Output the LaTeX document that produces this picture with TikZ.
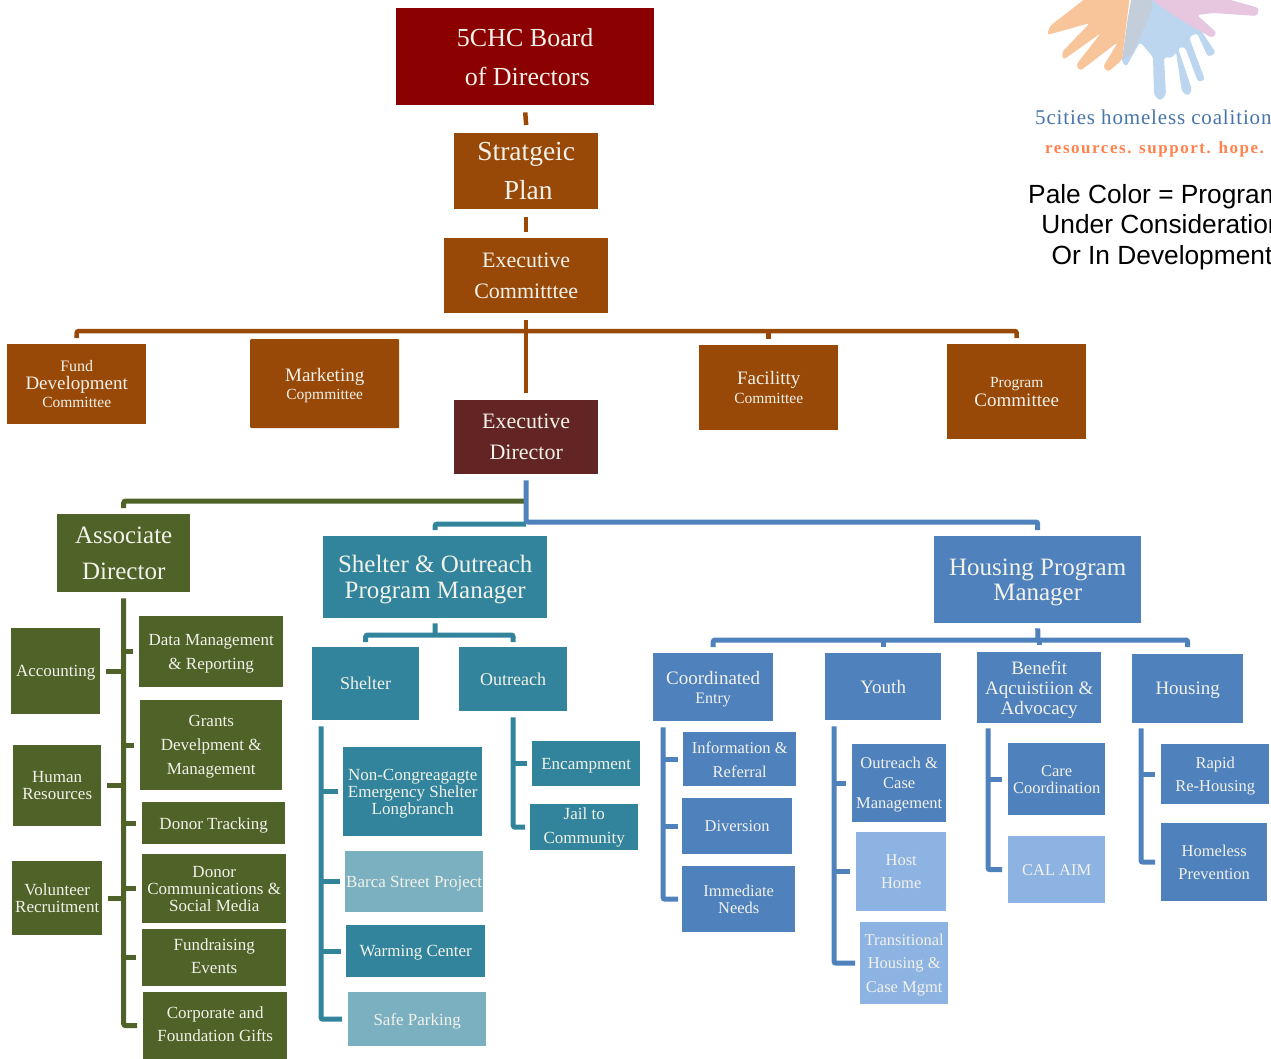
\documentclass[tikz,border=0pt]{standalone}
\usepackage{fontspec}
\setmainfont{Liberation Serif}
\newfontfamily\labelfont{Liberation Sans}
\newfontfamily\namefont[LetterSpace=4]{Liberation Serif}
\newfontfamily\sloganfont[LetterSpace=9]{Liberation Serif}
\newcommand{\fs}[2]{\fontsize{#1}{#2}\selectfont}
\definecolor{boardred}{HTML}{8B0000}
\definecolor{planbrown}{HTML}{984807}
\definecolor{directordark}{HTML}{632523}
\definecolor{staffgreen}{HTML}{4F6228}
\definecolor{shelterteal}{HTML}{31849B}
\definecolor{paleteal}{HTML}{7BB0C1}
\definecolor{housingblue}{HTML}{4F81BD}
\definecolor{paleblue}{HTML}{8DB3E2}
\definecolor{boxtext}{HTML}{F2F2EA}
\definecolor{handorange}{HTML}{F8C499}
\definecolor{handblue}{HTML}{BDD6F0}
\definecolor{handpink}{HTML}{E7C6E0}
\definecolor{handgrey}{HTML}{C3CEDA}
\tikzset{
  box/.style={anchor=north west, inner sep=0pt, align=center, text=boxtext, text depth=0pt},
  red_box/.style={box, fill=boardred},
  brown_box/.style={box, fill=planbrown},
  dark_box/.style={box, fill=directordark},
  green_box/.style={box, fill=staffgreen},
  teal_box/.style={box, fill=shelterteal},
  paleteal_box/.style={box, fill=paleteal},
  blue_box/.style={box, fill=housingblue},
  paleblue_box/.style={box, fill=paleblue},
  brown_line/.style={draw=planbrown, line width=4.5pt, rounded corners=2pt},
  green_line/.style={draw=staffgreen, line width=5pt, rounded corners=2pt},
  teal_line/.style={draw=shelterteal, line width=5pt, rounded corners=2pt},
  blue_line/.style={draw=housingblue, line width=5pt, rounded corners=2pt},
  size/.style n args={2}{minimum width=#1, minimum height=#2}
}
\begin{document}
\begin{tikzpicture}[x=1pt, y=-1pt]
  \clip (0,0) rectangle (1271,1059);
  % logo
  \fill[handblue, rounded corners=3pt] (1132,37) -- (1121,60) -- (1126,67) -- (1140,42) -- (1153,57) -- (1154,95) -- (1160,101) -- (1166,95) -- (1164,57) -- (1172,58) -- (1176,52) -- (1182,92) -- (1188,96) -- (1192,90) -- (1178,48) -- (1185,47) -- (1198,82) -- (1205,80) -- (1189,37) -- (1197,33) -- (1208,57) -- (1216,53) -- (1198,26) -- (1190,-5) -- (1140,-5) -- cycle;
  \fill[handpink, rounded corners=3pt] (1152,-5) -- (1152,0) -- (1173,15) -- (1212,38) -- (1217,33) -- (1197,15) -- (1213,13) -- (1257,16) -- (1259,8) -- (1213,-5) -- cycle;
  \fill[handorange, rounded corners=3pt] (1090,-5) -- (1050,26) -- (1047,35) -- (1090,23) -- (1062,52) -- (1063,60) -- (1101,33) -- (1076,65) -- (1080,71) -- (1118,42) -- (1103,67) -- (1108,72) -- (1122,60) -- (1130,-5) -- cycle;
  \fill[handgrey, rounded corners=2pt] (1132,-5) -- (1152,-5) -- (1152,10) -- (1132,55) -- (1122,60) -- (1128,17) -- cycle;
  \node[anchor=west, inner sep=0pt, text=housingblue!90!black, font=\namefont\fs{21}{21}] (logo_name) at (1035,117) {5cities homeless coalition};
  \node[anchor=west, inner sep=0pt, text=orange!60!red!70!white, font=\sloganfont\bfseries\fs{17}{17}] (logo_slogan) at (1045,149) {resources. support. hope.};
  \node[inner sep=0pt, align=center, font=\labelfont\fs{26.3}{30.5}] (pale_note) at (1155,227) {Pale Color = Program\\\hspace*{14pt}Under Consideration\\\hspace*{14pt}Or In Development};
  % top of the chart
  \node[red_box, size={258}{97}, font=\fs{26}{39}] (board) at (396,8) {5CHC Board\\ \hspace*{4pt}of Directors};
  \node[brown_box, size={144}{76}, font=\fs{27.5}{39}] (plan) at (454,133) {Stratgeic\\ \hspace*{4pt}Plan};
  \node[brown_box, size={164}{75}, font=\fs{22}{31}] (committee) at (444,238) {Executive\\Committtee};
  \node[brown_box, size={139}{80}, font=\fs{16}{18}] (fund) at (7,344) {\fs{16}{18}Fund\\\fs{19}{18}Development\\\fs{15.5}{18}Committee};
  \node[brown_box, size={149}{89}, rounded corners=1pt, font=\fs{19}{18}] (marketing) at (250,339) {\fs{19}{18}Marketing\\\fs{15.5}{18}Copmmittee};
  \node[brown_box, size={139}{85}, font=\fs{19}{19}] (facility) at (699,345) {\fs{19}{19}Facilitty\\\fs{15.5}{19}Committee};
  \node[brown_box, size={139}{95}, font=\fs{19}{19}] (program) at (947,344) {\fs{15.5}{19}Program\\\fs{19}{19}Committee};
  \node[dark_box, size={144}{74}, font=\fs{22}{31}] (director) at (454,400) {Executive\\Director};
  \coordinate (committee_bar) at (526,331);
  \draw[brown_line] ([yshift=-7]board.south) -- ([yshift=8]plan.north);
  \draw[brown_line] ([yshift=-8]plan.south) -- ([yshift=6]committee.north);
  \draw[brown_line] ([yshift=-7]committee.south) -- ([yshift=7]director.north);
  \draw[brown_line] ([yshift=6]fund.north) |- (committee_bar) -| ([yshift=6]program.north);
  \draw[brown_line] ([yshift=6]marketing.north) -- (marketing.north |- committee_bar);
  \draw[brown_line] ([yshift=6]facility.north) -- (facility.north |- committee_bar);
  % associate director and staff
  \node[green_box, size={133}{78}, font=\fs{25}{36}] (associate) at (57,514) {Associate\\Director};
  \node[green_box, size={89}{86}, font=\fs{17}{20}] (accounting) at (11,628) {Accounting};
  \node[green_box, size={88}{81}, font=\fs{17}{17}] (human) at (13,745) {Human\\Resources};
  \node[green_box, size={90}{74}, font=\fs{17}{17}] (volunteer) at (12,861) {Volunteer\\Recruitment};
  \node[green_box, size={144}{71}, font=\fs{17}{24}] (data) at (139,616) {Data Management\\\& Reporting};
  \node[green_box, size={142}{90}, font=\fs{17}{24}] (grants) at (140,700) {Grants\\Develpment \&\\Management};
  \node[green_box, size={143}{42}, font=\fs{17}{20}] (tracking) at (142,802) {Donor Tracking};
  \node[green_box, size={144}{69}, font=\fs{17}{17}] (communications) at (142,854) {Donor\\Communications \&\\Social Media};
  \node[green_box, size={144}{57}, text depth=4pt, font=\fs{17}{23}] (fundraising) at (142,929) {Fundraising\\Events};
  \node[green_box, size={144}{67}, text depth=4pt, font=\fs{17}{23}] (corporate) at (143,992) {Corporate and\\Foundation Gifts};
  \draw[green_line] ([yshift=-6]associate.south) |- ([xshift=-6]corporate.west);
  \draw[green_line] ([xshift=-6]data.west) -- (associate.south |- data.west);
  \draw[green_line] ([xshift=-6]grants.west) -- (associate.south |- grants.west);
  \draw[green_line] ([xshift=-6]tracking.west) -- (associate.south |- tracking.west);
  \draw[green_line] ([xshift=-6]communications.west) -- (associate.south |- communications.west);
  \draw[green_line] ([xshift=-6]fundraising.west) -- (associate.south |- fundraising.west);
  \draw[green_line] ([xshift=6]accounting.east) -- (associate.south |- accounting.east);
  \draw[green_line] ([xshift=6]human.east) -- (associate.south |- human.east);
  \draw[green_line] ([xshift=6]volunteer.east) -- (associate.south |- volunteer.east);
  % shelter and outreach
  \node[teal_box, size={224}{82}, font=\fs{25}{26}] (shelter_manager) at (323,536) {Shelter \& Outreach\\Program Manager};
  \node[teal_box, size={107}{73}, font=\fs{18}{20}] (shelter) at (312,647) {Shelter};
  \node[teal_box, size={108}{64}, font=\fs{18}{20}] (outreach) at (459,647) {Outreach};
  \node[teal_box, size={139}{89}, font=\fs{17}{17}] (congregate) at (343,747) {Non-Congreagagte\\Emergency Shelter\\Longbranch};
  \node[paleteal_box, size={138}{61}, font=\fs{17}{20}] (barca) at (345,851) {Barca Street Project};
  \node[teal_box, size={139}{52}, font=\fs{17}{20}] (warming) at (346,925) {Warming Center};
  \node[paleteal_box, size={138}{54}, font=\fs{17}{20}] (parking) at (348,992) {Safe Parking};
  \node[teal_box, size={108}{45}, font=\fs{17}{20}] (encampment) at (532,741) {Encampment};
  \node[teal_box, size={108}{46}, text depth=4pt, font=\fs{17}{24}] (jail) at (530,804) {Jail to\\Community};
  \coordinate (shelter_bar) at (435,635);
  \draw[teal_line] ([yshift=-5]shelter_manager.south) -- (shelter_bar);
  \draw[teal_line] ([yshift=5]shelter.north) |- (shelter_bar) -| ([yshift=5]outreach.north);
  \draw[teal_line] ([xshift=9,yshift=-6]shelter.south west) |- ([xshift=-6]parking.west);
  \draw[teal_line] ([xshift=-5]congregate.west) -- ([xshift=9]shelter.south west |- congregate.west);
  \draw[teal_line] ([xshift=-5]barca.west) -- ([xshift=9]shelter.south west |- barca.west);
  \draw[teal_line] ([xshift=-5]warming.west) -- ([xshift=9]shelter.south west |- warming.west);
  \draw[teal_line] ([yshift=-6]outreach.south) |- ([xshift=-5]jail.west);
  \draw[teal_line] ([xshift=-5]encampment.west) -- (outreach.south |- encampment.west);
  % housing
  \node[blue_box, size={207}{87}, font=\fs{25}{25}] (housing_manager) at (934,536) {Housing Program\\Manager};
  \node[blue_box, size={120}{68}, font=\fs{19}{19}] (entry) at (653,653) {\fs{19}{19}Coordinated\\\fs{16}{19}Entry};
  \node[blue_box, size={116}{67}, font=\fs{19}{20}] (youth) at (825,653) {Youth};
  \node[blue_box, size={124}{71}, font=\fs{19}{20}] (benefit) at (977,652) {Benefit\\Aqcuistiion \&\\Advocacy};
  \node[blue_box, size={111}{69}, font=\fs{19}{20}] (housing) at (1132,654) {Housing};
  \node[blue_box, size={113}{54}, font=\fs{16.5}{24}] (referral) at (683,732) {Information \&\\Referral};
  \node[blue_box, size={110}{56}, font=\fs{16.5}{20}] (diversion) at (682,798) {Diversion};
  \node[blue_box, size={113}{66}, font=\fs{16.5}{17}] (immediate) at (682,866) {Immediate\\Needs};
  \node[blue_box, size={94}{78}, font=\fs{16.5}{20}] (case) at (852,744) {Outreach \&\\Case\\Management};
  \node[paleblue_box, size={90}{79}, font=\fs{16.5}{23}] (host) at (856,832) {Host\\Home};
  \node[paleblue_box, size={88}{82}, font=\fs{16.5}{23.5}] (transitional) at (860,922) {Transitional\\Housing \&\\Case Mgmt};
  \node[blue_box, size={97}{72}, font=\fs{16.5}{17}] (care) at (1008,743) {Care\\Coordination};
  \node[paleblue_box, size={97}{67}, font=\fs{16.5}{20}] (calaim) at (1008,836) {CAL AIM};
  \node[blue_box, size={108}{60}, font=\fs{16.5}{23}] (rapid) at (1161,744) {Rapid\\Re-Housing};
  \node[blue_box, size={106}{78}, font=\fs{16.5}{23}] (homeless) at (1161,823) {Homeless\\Prevention};
  \coordinate (housing_bar) at (1038,640);
  \draw[blue_line] ([yshift=-5]housing_manager.south) -- (housing_bar);
  \draw[blue_line] ([yshift=6]entry.north) |- (housing_bar) -| ([yshift=7]housing.north);
  \draw[blue_line] ([yshift=6]youth.north) -- (youth.north |- housing_bar);
  \draw[blue_line] ([yshift=7]benefit.north) -- (benefit.north |- housing_bar);
  \draw[blue_line] ([xshift=10,yshift=-6]entry.south west) |- ([xshift=-4]immediate.west);
  \draw[blue_line] ([xshift=-5]referral.west) -- ([xshift=10]entry.south west |- referral.west);
  \draw[blue_line] ([xshift=-4]diversion.west) -- ([xshift=10]entry.south west |- diversion.west);
  \draw[blue_line] ([xshift=9,yshift=-6]youth.south west) |- ([xshift=-5]transitional.west);
  \draw[blue_line] ([xshift=-6]case.west) -- ([xshift=9]youth.south west |- case.west);
  \draw[blue_line] ([xshift=-6]host.west) -- ([xshift=9]youth.south west |- host.west);
  \draw[blue_line] ([xshift=11,yshift=-5]benefit.south west) |- ([xshift=-6]calaim.west);
  \draw[blue_line] ([xshift=-6]care.west) -- ([xshift=11]benefit.south west |- care.west);
  \draw[blue_line] ([xshift=9,yshift=-5]housing.south west) |- ([xshift=-6]homeless.west);
  \draw[blue_line] ([xshift=-6]rapid.west) -- ([xshift=9]housing.south west |- rapid.west);
  % below the director
  \coordinate (staff_bar) at (526,522);
  \coordinate (associate_bar) at (526,501);
  \draw[green_line] (associate_bar) -| ([yshift=6]associate.north);
  \draw[teal_line] ([yshift=-2]staff_bar) -| ([yshift=6]shelter_manager.north);
  \draw[blue_line] ([yshift=-6]director.south) -- (staff_bar) -| ([yshift=6]housing_manager.north);
\end{tikzpicture}
\end{document}
